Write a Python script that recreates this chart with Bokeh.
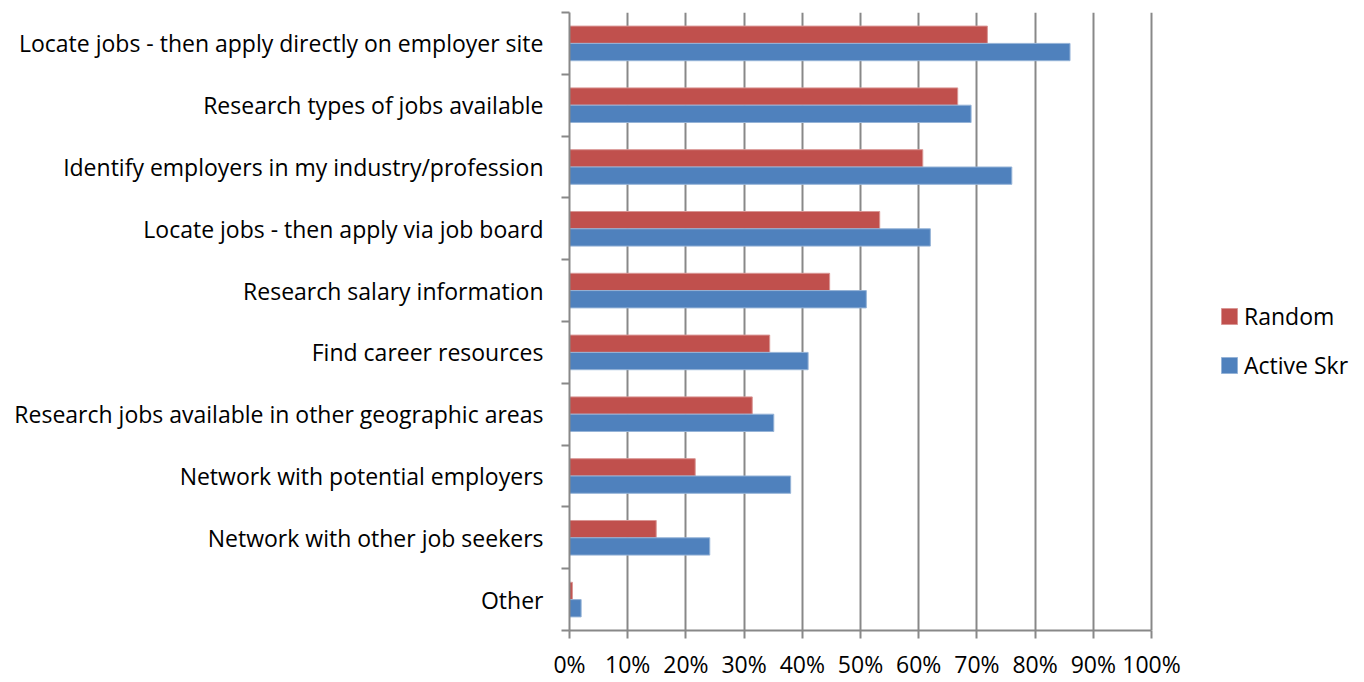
from bokeh.plotting import figure
from bokeh.models import (ColumnDataSource, FixedTicker, PrintfTickFormatter, Range1d,
                          Legend, LegendItem)
from bokeh.embed import file_html
from bokeh.resources import INLINE

categories = [
    "Locate jobs - then apply directly on employer site",
    "Research types of jobs available",
    "Identify employers in my industry/profession",
    "Locate jobs - then apply via job board",
    "Research salary information",
    "Find career resources",
    "Research jobs available in other geographic areas",
    "Network with potential employers",
    "Network with other job seekers",
    "Other",
]
random_vals = [71.8, 66.7, 60.7, 53.3, 44.7, 34.4, 31.4, 21.6, 14.9, 0.5]
active_vals = [86.0, 69.0, 76.0, 62.0, 51.0, 41.0, 35.1, 38.0, 24.1, 2.0]
x_ticks = [0, 10, 20, 30, 40, 50, 60, 70, 80, 90, 100]

n = len(categories)
centers = [n - 0.5 - i for i in range(n)]
bar_h = 0.28

src_r = ColumnDataSource(dict(y=[c + bar_h / 2 for c in centers], right=random_vals))
src_a = ColumnDataSource(dict(y=[c - bar_h / 2 for c in centers], right=active_vals))

FONT = "Open Sans"
FS = "23px"
GRID = "#888888"

W, H = 1364, 682
LEFT, TOP = 569, 12
BOTTOM = H - 633
px_per_unit = 582.0 / 100.0
x_end = (W - LEFT) / px_per_unit

p = figure(width=W, height=H, output_backend="svg", toolbar_location=None,
           x_range=Range1d(0, x_end), y_range=Range1d(0, n),
           min_border_left=LEFT, min_border_right=0, min_border_top=TOP,
           min_border_bottom=BOTTOM)
p.outline_line_color = None
p.background_fill_color = "white"

r1 = p.hbar(y="y", right="right", left=0, height=bar_h, source=src_r,
            fill_color="#C0504D", line_color="#D99694", line_width=1)
r2 = p.hbar(y="y", right="right", left=0, height=bar_h, source=src_a,
            fill_color="#4F81BD", line_color="#95B3D7", line_width=1)

# x axis
p.xaxis.ticker = FixedTicker(ticks=x_ticks)
p.xaxis.bounds = (0, 100)
p.xaxis.formatter = PrintfTickFormatter(format="%d%%")
p.xaxis.axis_line_color = GRID
p.xaxis.axis_line_width = 2
p.xaxis.major_tick_line_color = GRID
p.xaxis.major_tick_line_width = 2
p.xaxis.major_tick_out = 8
p.xaxis.major_tick_in = 0
p.xaxis.minor_tick_line_color = None
p.xaxis.major_label_standoff = 9
p.xaxis.major_label_text_font = FONT
p.xaxis.major_label_text_font_size = FS
p.xaxis.major_label_text_color = "black"

# y axis: labels at centers, ticks at boundaries
p.yaxis.ticker = FixedTicker(ticks=centers, minor_ticks=list(range(n + 1)))
p.yaxis.major_label_overrides = {c: categories[i] for i, c in enumerate(centers)}
p.yaxis.axis_line_color = GRID
p.yaxis.axis_line_width = 2
p.yaxis.major_tick_line_color = None
p.yaxis.major_tick_out = 0
p.yaxis.major_tick_in = 0
p.yaxis.minor_tick_line_color = GRID
p.yaxis.minor_tick_line_width = 2
p.yaxis.minor_tick_out = 8
p.yaxis.minor_tick_in = 0
p.yaxis.major_label_standoff = 18
p.yaxis.major_label_text_font = FONT
p.yaxis.major_label_text_font_size = FS
p.yaxis.major_label_text_color = "black"

p.xgrid.ticker = FixedTicker(ticks=x_ticks)
p.xgrid.grid_line_color = GRID
p.xgrid.grid_line_width = 2
p.ygrid.grid_line_color = None

legend = Legend(items=[LegendItem(label="Random", renderers=[r1]),
                       LegendItem(label="Active Skr", renderers=[r2])],
                location=(650, 249))
legend.label_text_font = FONT
legend.label_text_font_size = FS
legend.label_text_color = "black"
legend.glyph_width = 20
legend.glyph_height = 20
legend.label_height = 24
legend.spacing = 17
legend.label_standoff = 5
legend.border_line_color = None
legend.background_fill_alpha = 0
legend.padding = 0
legend.margin = 0
p.add_layout(legend)

open("out.html", "w").write(file_html(p, INLINE))
